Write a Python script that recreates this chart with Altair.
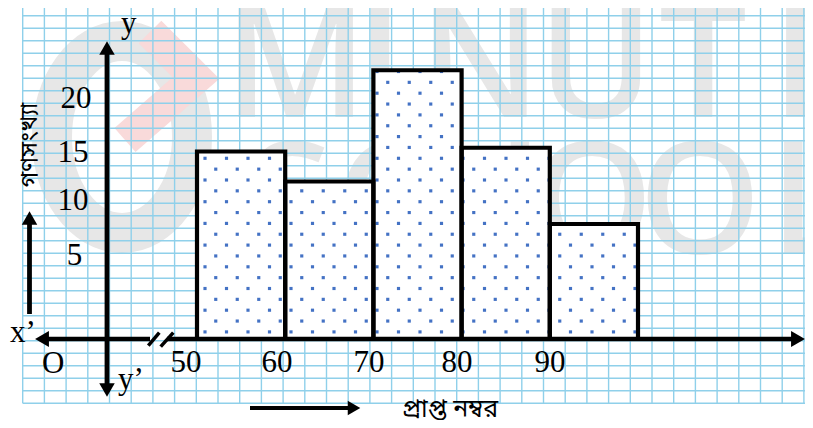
import altair as alt
import numpy as np
import pandas as pd

# ---------------- data ----------------
class_lo = [50, 60, 70, 80, 90]
class_hi = [60, 70, 80, 90, 100]
freq = [15.0, 12.6, 21.5, 15.3, 9.2]          # bar heights, in graph-paper rows
x_tick_text = ["50", "60", "70", "80", "90"]
y_tick_text = ["5", "10", "15", "20"]
x_title = "প্রাপ্ত নম্বর"
y_title = "গণসংখ্যা"

# ---------------- layout (page pixels of the reference) ----------------
W, H = 797, 412
OFF = 8
PX_PER_MARK = 8.82
PX_PER_ROW = 12.5
ORX, ORY = 197, 339          # page pixel of (50 marks, 0)


def mx(px):
    return 50 + (px - ORX) / PX_PER_MARK


def fy(py):
    return (ORY - py) / PX_PER_ROW


XD = [mx(OFF), mx(OFF + W)]
YD = [fy(OFF + H), fy(OFF)]
xs = alt.Scale(domain=XD, nice=False, zero=False)
ys = alt.Scale(domain=YD, nice=False, zero=False)

# graph-paper grid, its own scale (cell index)
G_X0, G_DX, G_Y0, G_DY = 22.7, 21.7, 3.3, 12.5
gxs = alt.Scale(domain=[(OFF - G_X0) / G_DX, (OFF + W - G_X0) / G_DX], nice=False, zero=False)
gys = alt.Scale(domain=[(OFF - G_Y0) / G_DY, (OFF + H - G_Y0) / G_DY], nice=False, zero=False, reverse=True)

GRID = "#8fd0ea"
WM = "#e7e7e7"
PINK = "#f9dada"
BLACK = "#000000"
SERIF = "Liberation Serif, Times New Roman, serif"
BENG = "Noto Sans Bengali, Noto Serif Bengali, Lohit Bengali, Mukti, FreeSans, FreeSerif, sans-serif"


def X(f, s=None):
    return alt.X(f, type="quantitative", scale=s or xs, axis=None)


def Y(f, s=None):
    return alt.Y(f, type="quantitative", scale=s or ys, axis=None)


layers = []

# ---------------- watermark ----------------
ring = pd.DataFrame({"x": [mx(122)], "y": [fy(137)]})
layers.append(alt.Chart(ring).mark_point(
    shape="M1,0A1,1.37,0,1,1,-1,0A1,1.37,0,1,1,1,0Z", size=19600,
    filled=False, stroke=WM, strokeWidth=40, opacity=1).encode(x=X("x"), y=Y("y")))

chev = pd.DataFrame({"x": [mx(150), mx(196), mx(125)], "y": [fy(32), fy(78), fy(140)], "o": [0, 1, 2]})
layers.append(alt.Chart(chev).mark_line(color=PINK, strokeWidth=32, strokeJoin="miter",
                                        strokeCap="butt").encode(x=X("x"), y=Y("y"), order="o:Q"))

wm_top = list("MINUTE")
wm_top_px = [295.5, 380, 480, 596, 703, 815]
wm_bot = list("SCHOOL")
wm_bot_px = [290, 385, 485, 592, 700, 812]
wm = pd.DataFrame({
    "t": wm_top + wm_bot,
    "x": [mx(p) for p in wm_top_px + wm_bot_px],
    "y": [fy(117)] * 6 + [fy(253)] * 6,
})
layers.append(alt.Chart(wm).mark_text(font="Open Sans", fontSize=156, fontWeight=600, color=WM,
                                      align="center", baseline="alphabetic").encode(
    x=X("x"), y=Y("y"), text="t:N"))

# ---------------- grid ----------------
vl = pd.DataFrame({"k": np.arange(37), "a": 0.0, "b": 32.0})
hl = pd.DataFrame({"j": np.arange(33), "a": 0.0, "b": 36.4})
layers.append(alt.Chart(vl).mark_rule(color=GRID, strokeWidth=1.4).encode(
    x=X("k", gxs), y=Y("a", gys), y2="b:Q"))
layers.append(alt.Chart(hl).mark_rule(color=GRID, strokeWidth=1.4).encode(
    y=Y("j", gys), x=X("a", gxs), x2="b:Q"))

# ---------------- bars ----------------
bars = pd.DataFrame({"lo": class_lo, "hi": class_hi, "f": freq, "base": 0.0})
layers.append(alt.Chart(bars).mark_rect(fill="white", strokeWidth=0).encode(
    x=X("lo"), x2="hi:Q", y=Y("base"), y2="f:Q"))

# dotted fill texture (staggered lattice clipped to each bar)
DDX = 21.5 / PX_PER_MARK
DDY = 10.85 / PX_PER_ROW
dx0, df0 = mx(205), fy(158.3)
dots = []
for n in range(-14, 22):
    fv = df0 - n * DDY
    sh = 0 if n % 2 == 0 else DDX / 2
    for k in range(-12, 40):
        xv = dx0 + sh + k * DDX
        for lo, hi, top in zip(class_lo, class_hi, freq):
            if lo - 0.05 <= xv <= hi + 0.05 and 0.2 <= fv <= top - 0.05:
                dots.append({"x": xv, "y": fv})
dots = pd.DataFrame(dots)
layers.append(alt.Chart(dots).mark_point(shape="square", size=10, filled=True, color="#4472c4",
                                         opacity=1).encode(x=X("x"), y=Y("y")))

layers.append(alt.Chart(bars).mark_rect(fill=None, fillOpacity=0, stroke=BLACK, strokeWidth=4.2).encode(
    x=X("lo"), x2="hi:Q", y=Y("base"), y2="f:Q"))

# ---------------- axes, arrows ----------------
segs = pd.DataFrame({
    "x": [mx(107), mx(45), mx(167), mx(29.5), mx(250)],
    "x2": [mx(107), mx(150), mx(795), mx(29.5), mx(350)],
    "y": [fy(52), fy(339), fy(339), fy(314), fy(408)],
    "y2": [fy(386), fy(339), fy(339), fy(222), fy(408)],
    "w": [4.8, 4.5, 4.5, 4.8, 4.0],
})
layers.append(alt.Chart(segs).mark_rule(color=BLACK).encode(
    x=X("x"), x2="x2:Q", y=Y("y"), y2="y2:Q", strokeWidth=alt.StrokeWidth("w:Q", scale=None)))

slash = pd.DataFrame({
    "x": [mx(148.3), mx(160.7)], "x2": [mx(159.3), mx(173.3)],
    "y": [fy(345.7), fy(346.7)], "y2": [fy(332.7), fy(332.7)],
})
layers.append(alt.Chart(slash).mark_rule(color=BLACK, strokeWidth=3.5).encode(
    x=X("x"), x2="x2:Q", y=Y("y"), y2="y2:Q"))

heads = pd.DataFrame({
    "x": [mx(107), mx(107), mx(42), mx(798), mx(29.5), mx(354)],
    "y": [fy(48), fy(390), fy(339), fy(339), fy(218), fy(408)],
    "s": ["triangle-up", "triangle-down", "triangle-left", "triangle-right", "triangle-up", "triangle-right"],
    "z": [240, 240, 256, 256, 240, 210],
})
layers.append(alt.Chart(heads).mark_point(filled=True, color=BLACK, opacity=1).encode(
    x=X("x"), y=Y("y"),
    shape=alt.Shape("s:N", scale=None),
    size=alt.Size("z:Q", scale=None)))

# ---------------- labels ----------------
xt = pd.DataFrame({"t": x_tick_text, "x": [mx(p) for p in [186, 277, 369, 457, 550]], "y": fy(372)})
layers.append(alt.Chart(xt).mark_text(font=SERIF, fontSize=31, color=BLACK, align="center",
                                      baseline="alphabetic").encode(x=X("x"), y=Y("y"), text="t:N"))

yt = pd.DataFrame({"t": y_tick_text, "x": [mx(p) for p in [74.5, 73, 73, 76]],
                   "y": [fy(p) for p in [265, 210, 162, 108]]})
layers.append(alt.Chart(yt).mark_text(font=SERIF, fontSize=31, color=BLACK, align="center",
                                      baseline="alphabetic").encode(x=X("x"), y=Y("y"), text="t:N"))

ax_lab = pd.DataFrame({
    "t": ["y", "x\u2019", "O", "y\u2019", "x"],
    "x": [mx(121), mx(10), mx(42), mx(118), mx(805)],
    "y": [fy(33), fy(342), fy(373), fy(389), fy(342)],
})
layers.append(alt.Chart(ax_lab).mark_text(font=SERIF, fontSize=31, color=BLACK, align="left",
                                          baseline="alphabetic").encode(x=X("x"), y=Y("y"), text="t:N"))

layers.append(alt.Chart(pd.DataFrame({"t": [y_title], "x": [mx(30)], "y": [fy(145)]})).mark_text(
    font=BENG, fontSize=24, color=BLACK, angle=270, align="center", baseline="middle").encode(
    x=X("x"), y=Y("y"), text="t:N"))
layers.append(alt.Chart(pd.DataFrame({"t": [x_title], "x": [mx(450)], "y": [fy(409)]})).mark_text(
    font=BENG, fontSize=25, color=BLACK, align="center", baseline="middle").encode(
    x=X("x"), y=Y("y"), text="t:N"))

chart = alt.layer(*layers).resolve_scale(x="independent", y="independent").properties(
    width=W, height=H, padding=0, autosize=alt.AutoSizeParams(type="none"),
    background="white",
).configure_view(stroke=None)

chart.save("out.html", embed_options={"renderer": "svg", "actions": False})
